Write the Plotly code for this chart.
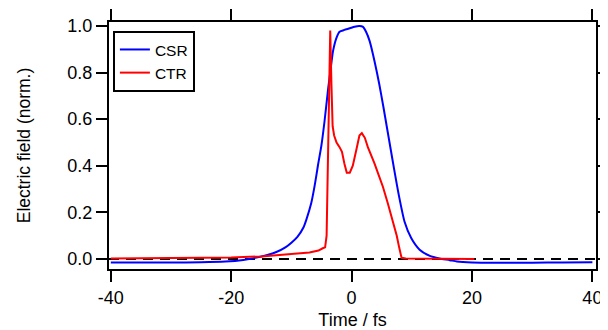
import plotly.graph_objects as go

# CSR (blue)
csr_t = [-40, -30, -25, -21, -18, -15.8, -14, -12.5, -11, -10, -9, -8, -7.5, -6.7, -6.1, -5.6, -5.0, -4.5,
         -3.9, -3.5, -3.1, -2.5, -2.0, -1.2, -0.3, 0.5, 1.3, 1.9, 2.4, 3.0, 3.8, 4.6, 5.3, 5.9, 6.5, 7.1,
         7.8, 8.8, 9.9, 11.3, 13.0, 14.6, 16.3, 17.5, 20, 25, 30, 35, 40]
csr_v = [-0.015, -0.015, -0.014, -0.011, -0.004, 0.006, 0.017, 0.03, 0.05, 0.07, 0.095, 0.135, 0.17, 0.24,
         0.32, 0.40, 0.49, 0.59, 0.73, 0.81, 0.89, 0.95, 0.975, 0.983, 0.99, 0.997, 1.0, 0.996, 0.975, 0.935,
         0.85, 0.75, 0.65, 0.56, 0.47, 0.38, 0.28, 0.16, 0.09, 0.04, 0.013, 0.002, -0.005, -0.011, -0.015,
         -0.016, -0.016, -0.015, -0.014]

# CTR (red)
ctr_t = [-40, -30, -25, -20, -15, -12, -10, -8.5, -7, -6, -5.5, -4.8, -4.4, -4.15, -3.85, -3.55, -3.35,
         -3.15, -2.9, -2.5, -2.0, -1.6, -1.2, -0.8, -0.3, 0.2, 0.8, 1.3, 1.7, 2.2, 2.7, 3.2, 3.8, 4.5, 5.2,
         6.0, 6.8, 7.5, 7.9, 8.3, 9, 12, 16, 20.4]
ctr_v = [0.002, 0.003, 0.004, 0.006, 0.011, 0.016, 0.02, 0.025, 0.028, 0.032, 0.036, 0.046, 0.05, 0.1, 0.6,
         0.98, 0.75, 0.57, 0.53, 0.50, 0.48, 0.46, 0.41, 0.37, 0.37, 0.40, 0.47, 0.53, 0.54, 0.52, 0.48,
         0.45, 0.41, 0.36, 0.31, 0.24, 0.17, 0.10, 0.05, 0.005, 0.002, 0.001, 0.0, 0.0]

x_ticks = [-40, -20, 0, 20, 40]
y_ticks = [0.0, 0.2, 0.4, 0.6, 0.8, 1.0]

FONT = "Liberation Sans, Arial, sans-serif"

fig = go.Figure()
fig.add_trace(go.Scatter(x=csr_t, y=csr_v, mode="lines", name="CSR",
                         line=dict(color="#0000ff", width=2, shape="spline", smoothing=0.6)))
fig.add_trace(go.Scatter(x=ctr_t, y=ctr_v, mode="lines", name="CTR",
                         line=dict(color="#ff0000", width=2)))

fig.add_shape(type="line", xref="paper", yref="y", x0=0, x1=1, y0=0, y1=0,
              line=dict(color="black", width=2, dash="10px,7px"), layer="below")

axis_common = dict(showline=True, linecolor="black", linewidth=2, mirror="ticks",
                   ticks="outside", ticklen=11, tickwidth=2, tickcolor="black",
                   showgrid=False, zeroline=False, automargin=False,
                   tickfont=dict(family=FONT, size=18, color="black"))

# page body has an 8px margin, so the figure is 600x322 placed at (8, 8)
fig.update_layout(
    width=600, height=322,
    margin=dict(l=101, r=12, t=14, b=61),
    paper_bgcolor="white", plot_bgcolor="white",
    font=dict(family=FONT, size=18, color="black"),
    xaxis=dict(range=[-40.3, 40.6], tickvals=x_ticks, ticktext=[str(v) for v in x_ticks],
               title=dict(text="Time / fs", font=dict(size=18), standoff=8), **axis_common),
    yaxis=dict(range=[-0.043, 1.017], tickvals=y_ticks, ticktext=[f"{v:.1f}" for v in y_ticks],
               title=dict(text="Electric field (norm.)", font=dict(size=17.5), standoff=32), **axis_common),
    legend=dict(x=0.008, y=0.964, xanchor="left", yanchor="top",
                bordercolor="black", borderwidth=2, bgcolor="white",
                font=dict(family=FONT, size=15.5), tracegroupgap=0, itemwidth=30),
    showlegend=True,
)

fig.write_html("out.html")
